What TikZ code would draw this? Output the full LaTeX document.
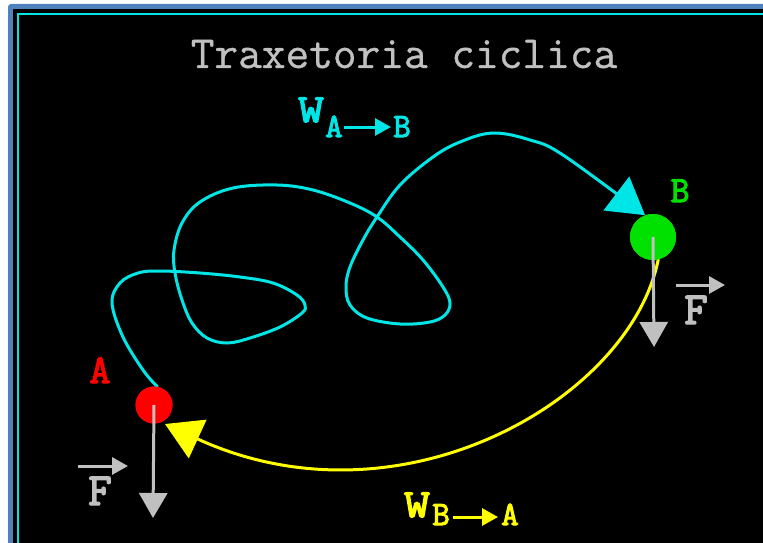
\documentclass[tikz,border=0pt]{standalone}
\usepackage{fontspec}
\newfontfamily\bmono[FakeBold=3]{Latin Modern Mono}
\newfontfamily\tmono[FakeBold=0.8]{Latin Modern Mono}
\usetikzlibrary{arrows.meta}
\definecolor{frameblue}{RGB}{79,129,189}
\definecolor{trcyan}{RGB}{0,230,230}
\definecolor{trgreen}{RGB}{0,225,0}
\definecolor{trgray}{RGB}{192,192,192}
\definecolor{tryellow}{RGB}{255,255,0}
\definecolor{trred}{RGB}{255,0,0}
\begin{document}
\begin{tikzpicture}[x=1pt,y=-1pt,
  titlestyle/.style={text=trgray, inner sep=0pt, anchor=base, font=\tmono\fontsize{46}{46}\selectfont},
  ptlabel/.style={inner sep=0pt, anchor=base, font=\bmono\fontsize{41}{41}\selectfont},
  wmain/.style={inner sep=0pt, anchor=base, font=\bmono\fontsize{40}{40}\selectfont},
  wsub/.style={inner sep=0pt, anchor=base, font=\bmono\fontsize{34}{34}\selectfont},
  flabel/.style={inner sep=0pt, anchor=base, text=trgray, font=\bmono\fontsize{46}{46}\selectfont},
  dot/.style={circle, inner sep=0pt},
  bigtip/.style={-{Triangle[length=36pt,width=42pt]}, line width=3pt, line cap=round},
  grayarrow/.style={-{Triangle[length=25pt,width=28pt]}, line width=3pt, trgray},
  smallarrow/.style={-{Triangle[length=16pt,width=17pt]}, line width=3pt},
]
\useasboundingbox (0,0) rectangle (763,543);
\fill[white] (0,0) rectangle (763,543);
\fill[frameblue, rounded corners=3pt] (8,4) rectangle (790,570);
\fill[black] (13,9) rectangle (780,560);
\draw[trcyan, line width=1.2pt] (18,560) -- (18,14) -- (780,14);

% title
\node[titlestyle] (title) at (404,68) {Traxetoria ciclica};

% points
\node[dot, fill=trred, minimum size=37pt] (A) at (154,405) {};
\node[dot, fill=trgreen, minimum size=46pt] (B) at (653,237) {};
\node[ptlabel, text=trred] (Alab) at (100,383) {A};
\node[ptlabel, text=trgreen, font=\bmono\fontsize{37}{37}\selectfont] (Blab) at (680,202) {B};

% cyan path A -> B
\draw[bigtip, trcyan] plot[smooth, tension=0.6] coordinates {(A.80) (143,370) (123,337) (112,303) (120,283) (138,273) (160,271) (200,273) (240,277) (273,283) (297,295) (305,305) (302,313) (280,327) (250,338) (227,343) (207,338) (192,323) (182,300) (175,273) (174,250) (182,223) (200,202) (233,188) (277,185) (313,190) (350,203) (377,217) (400,237) (423,260) (443,287) (450,303) (445,315) (430,322) (400,324) (367,318) (350,305) (346,287) (350,267) (363,240) (377,217) (400,185) (433,157) (460,142) (493,133) (530,140) (563,155) (B.110)};

% yellow path B -> A
\coordinate (yend) at (165,424);
\draw[bigtip, tryellow] (B.-77) .. controls (630,400) and (400,532) .. (yend);

% redraw dots on top of line starts
\fill[trred] (A) circle (18.5pt);
\fill[trgreen] (B) circle (23pt);

% forces
\coordinate (FAtip) at (153,518);
\coordinate (FBtip) at (654,347);
\draw[grayarrow] (A.center) -- (FAtip);
\draw[grayarrow] (B.center) -- (FBtip);

% vector F labels
\node[flabel] (FA) at (100,505) {F};
\coordinate (FAv1) at (78,466);
\coordinate (FAv2) at (128,466);
\draw[smallarrow, trgray] (FAv1) -- (FAv2);
\node[flabel] (FB) at (696,324) {F};
\coordinate (FBv1) at (676,285);
\coordinate (FBv2) at (725,285);
\draw[smallarrow, trgray] (FBv1) -- (FBv2);

% W labels
\node[wmain, text=trcyan] (W1) at (311,122) {\scalebox{1.25}[1]{W}};
\node[wsub, text=trcyan] (W1a) at (334,137) {A};
\coordinate (W1s) at (344,127);
\coordinate (W1e) at (391,127);
\draw[smallarrow, trcyan] (W1s) -- (W1e);
\node[wsub, text=trcyan] (W1b) at (402,137) {B};

\node[wmain, text=tryellow] (W2) at (417,517) {\scalebox{1.25}[1]{W}};
\node[wsub, text=tryellow] (W2b) at (441,525) {B};
\coordinate (W2s) at (453,517);
\coordinate (W2e) at (498,517);
\draw[smallarrow, tryellow] (W2s) -- (W2e);
\node[wsub, text=tryellow] (W2a) at (510,525) {A};
\end{tikzpicture}
\end{document}
